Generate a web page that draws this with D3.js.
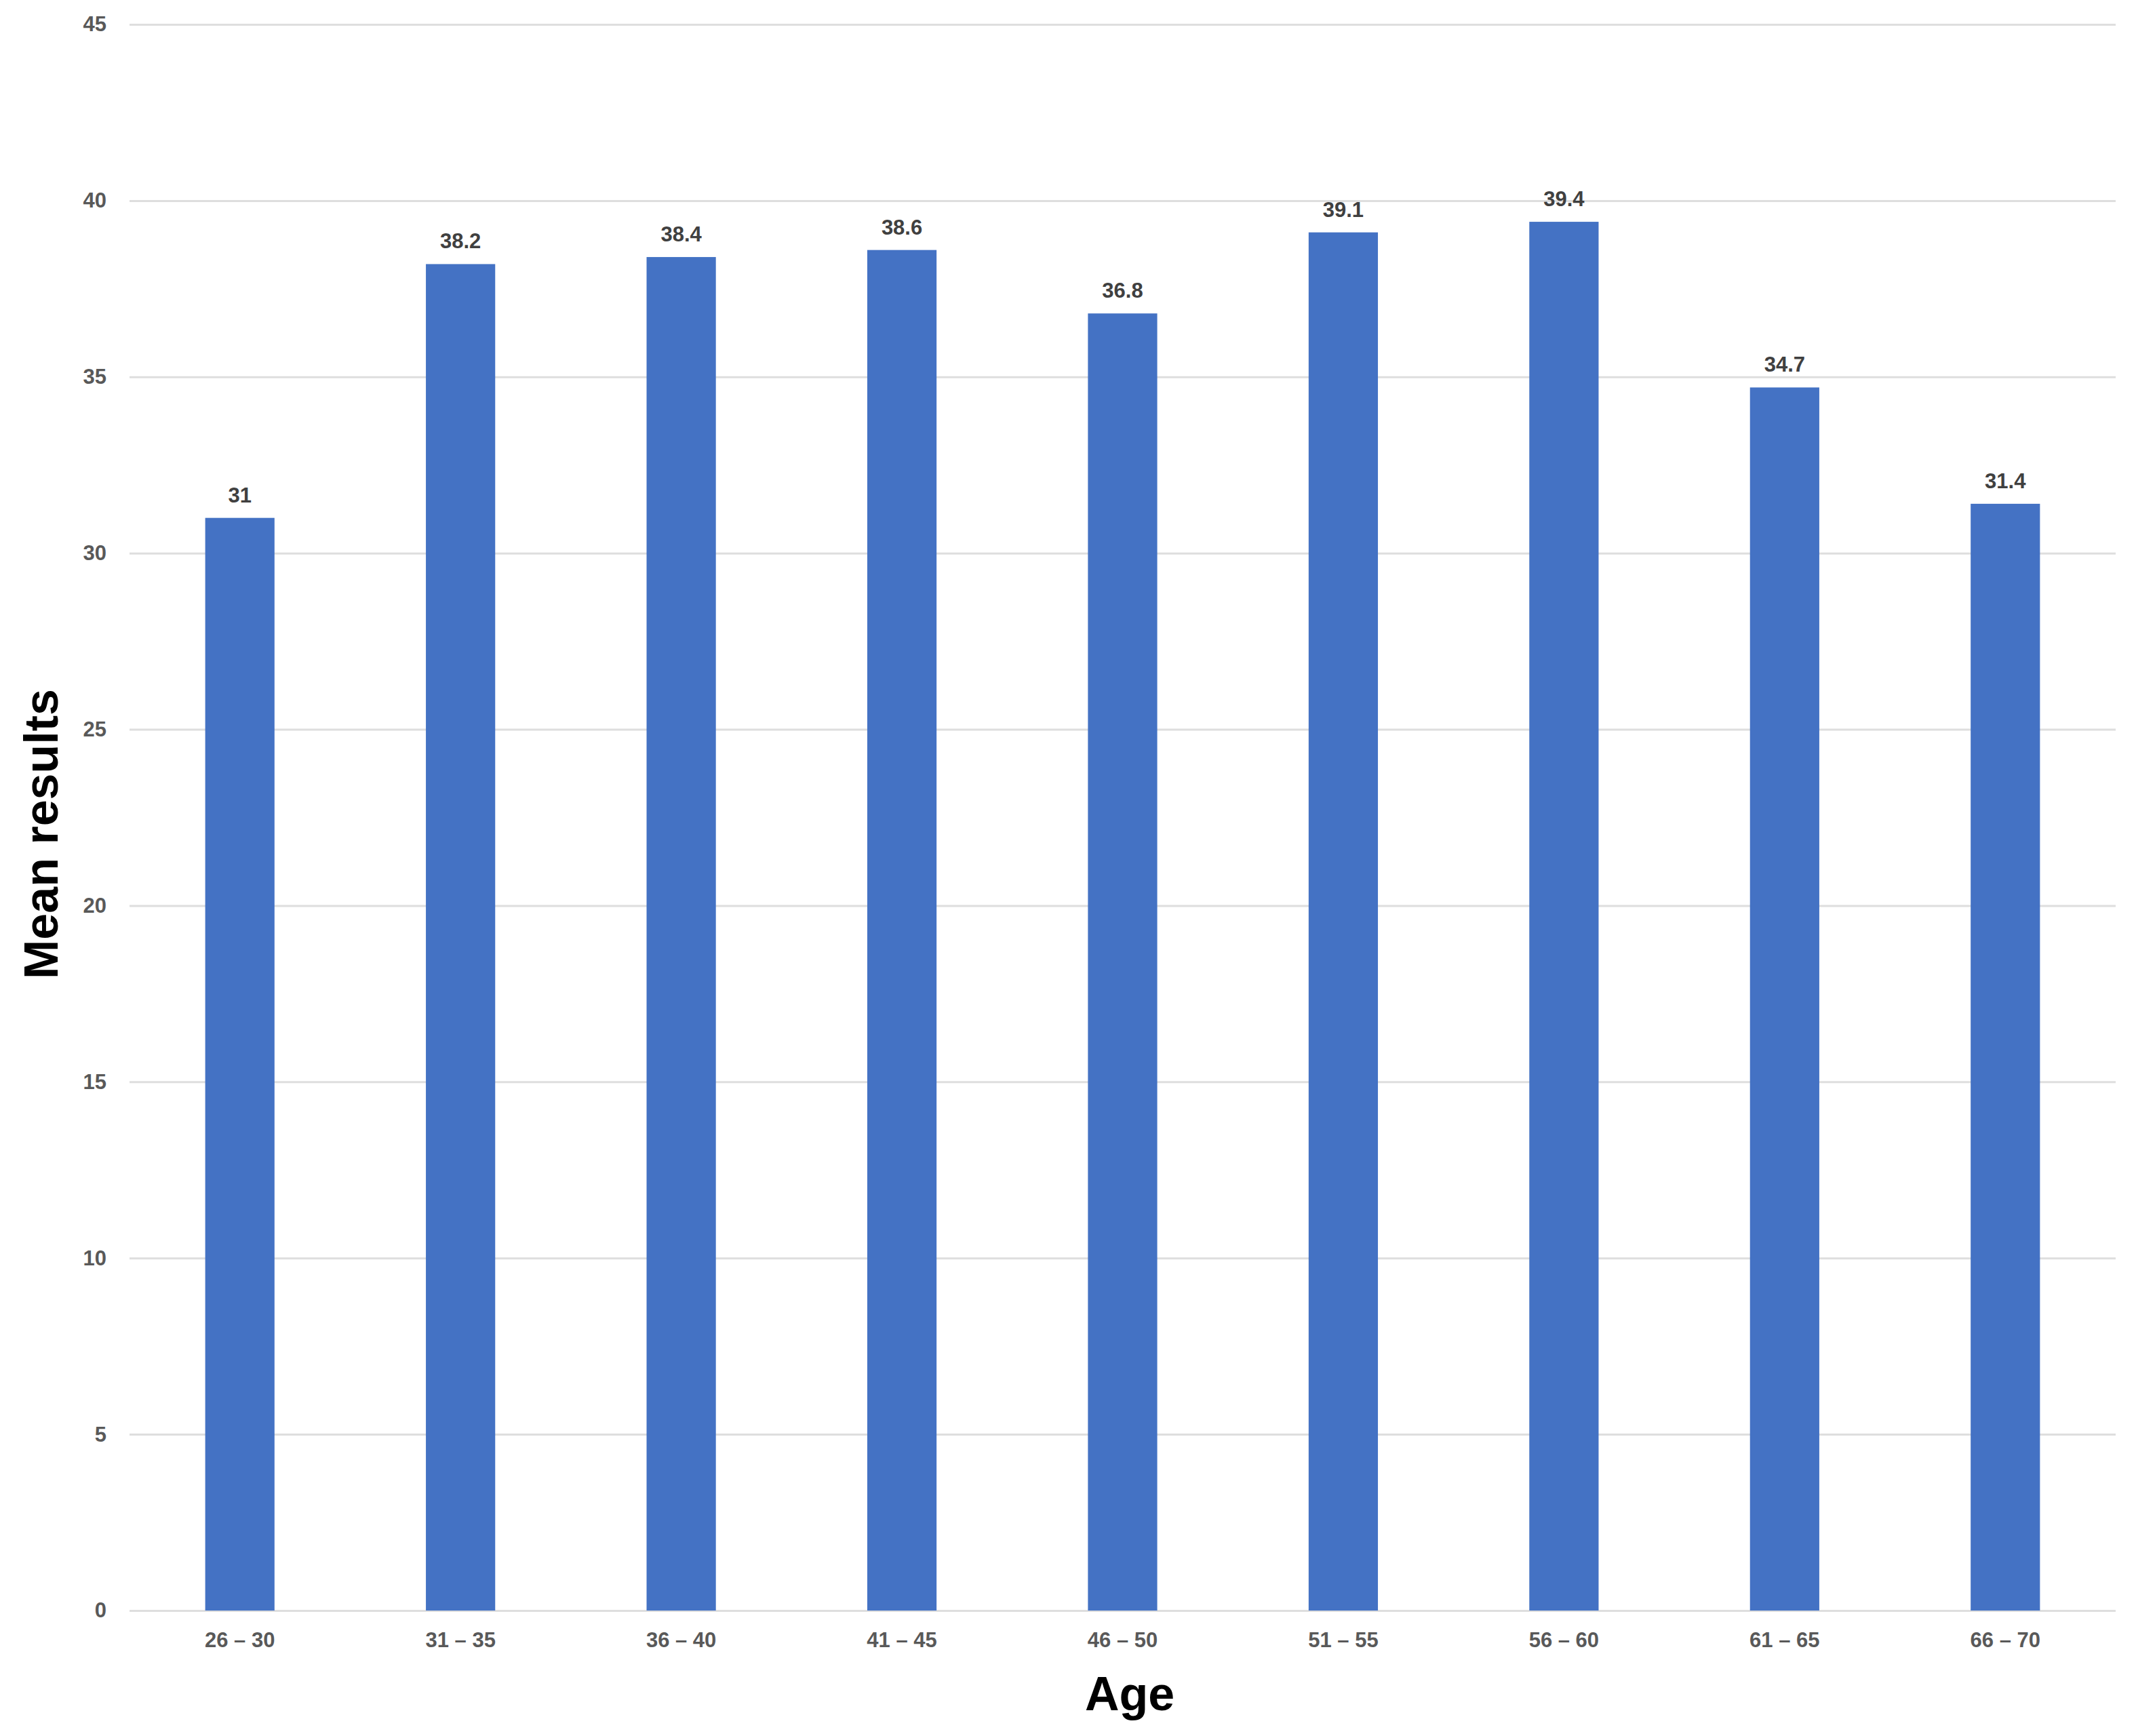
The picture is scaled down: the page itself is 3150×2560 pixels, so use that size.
<!DOCTYPE html>
<html>
<head>
<meta charset="utf-8">
<script src="https://cdn.jsdelivr.net/npm/d3@7"></script>
<style>
  html, body { margin: 0; padding: 0; background: #ffffff; }
  svg { display: block; }
</style>
</head>
<body>
<script>
const categories = ["26 – 30", "31 – 35", "36 – 40", "41 – 45", "46 – 50", "51 – 55", "56 – 60", "61 – 65", "66 – 70"];
const values = [31, 38.2, 38.4, 38.6, 36.8, 39.1, 39.4, 34.7, 31.4];
const yTicks = [0, 5, 10, 15, 20, 25, 30, 35, 40, 45];
const xTitle = "Age";
const yTitle = "Mean results";

const W = 3150, H = 2560;
const margin = { top: 36, right: 30, bottom: 185, left: 191 };
const iw = W - margin.left - margin.right;
const ih = H - margin.top - margin.bottom;

const svg = d3.select("body").append("svg").attr("width", W).attr("height", H);
svg.append("rect").attr("width", W).attr("height", H).attr("fill", "#ffffff");

const g = svg.append("g").attr("transform", `translate(${margin.left},${margin.top})`);

const x = d3.scaleBand().domain(categories).range([0, iw]).paddingInner(0.686).paddingOuter(0.343);
const y = d3.scaleLinear().domain([0, 45]).range([ih, 0]);

// Gridlines
const yAxis = d3.axisLeft(y).tickValues(yTicks).tickSize(-iw).tickPadding(34).tickFormat(d3.format("d"));
const ya = g.append("g").call(yAxis);
ya.select(".domain").remove();
ya.selectAll(".tick line").attr("stroke", "#dedede").attr("stroke-width", 3);
ya.selectAll(".tick text")
  .attr("fill", "#595959")
  .style("font-family", "'Liberation Sans', Arial, sans-serif")
  .style("font-weight", "bold")
  .style("font-size", "31px");

// Bars
g.selectAll("rect.bar").data(values).join("rect")
  .attr("class", "bar")
  .attr("x", (d, i) => x(categories[i]))
  .attr("width", x.bandwidth())
  .attr("y", d => y(d))
  .attr("height", d => y(0) - y(d))
  .attr("fill", "#4472C4");

// Value labels
g.selectAll("text.val").data(values).join("text")
  .attr("class", "val")
  .attr("x", (d, i) => x(categories[i]) + x.bandwidth() / 2)
  .attr("y", d => y(d) - 23)
  .attr("text-anchor", "middle")
  .attr("fill", "#404040")
  .style("font-family", "'Liberation Sans', Arial, sans-serif")
  .style("font-weight", "bold")
  .style("font-size", "31px")
  .text(d => d3.format("")(d));

// X axis
const xAxis = d3.axisBottom(x).tickSize(0).tickPadding(32);
const xa = g.append("g").attr("transform", `translate(0,${ih})`).call(xAxis);
xa.select(".domain").remove();
xa.selectAll(".tick text")
  .attr("fill", "#595959")
  .style("font-family", "'Liberation Sans', Arial, sans-serif")
  .style("font-weight", "bold")
  .style("font-size", "31px");

// Axis titles
svg.append("text")
  .attr("x", 1666)
  .attr("y", 2522)
  .attr("text-anchor", "middle")
  .attr("fill", "#000000")
  .style("font-family", "'Liberation Sans', Arial, sans-serif")
  .style("font-weight", "bold")
  .style("font-size", "70px")
  .text(xTitle);

svg.append("text")
  .attr("transform", `translate(85,1230) rotate(-90)`)
  .attr("text-anchor", "middle")
  .attr("fill", "#000000")
  .style("font-family", "'Liberation Sans', Arial, sans-serif")
  .style("font-weight", "bold")
  .style("font-size", "70px")
  .text(yTitle);
</script>
</body>
</html>
